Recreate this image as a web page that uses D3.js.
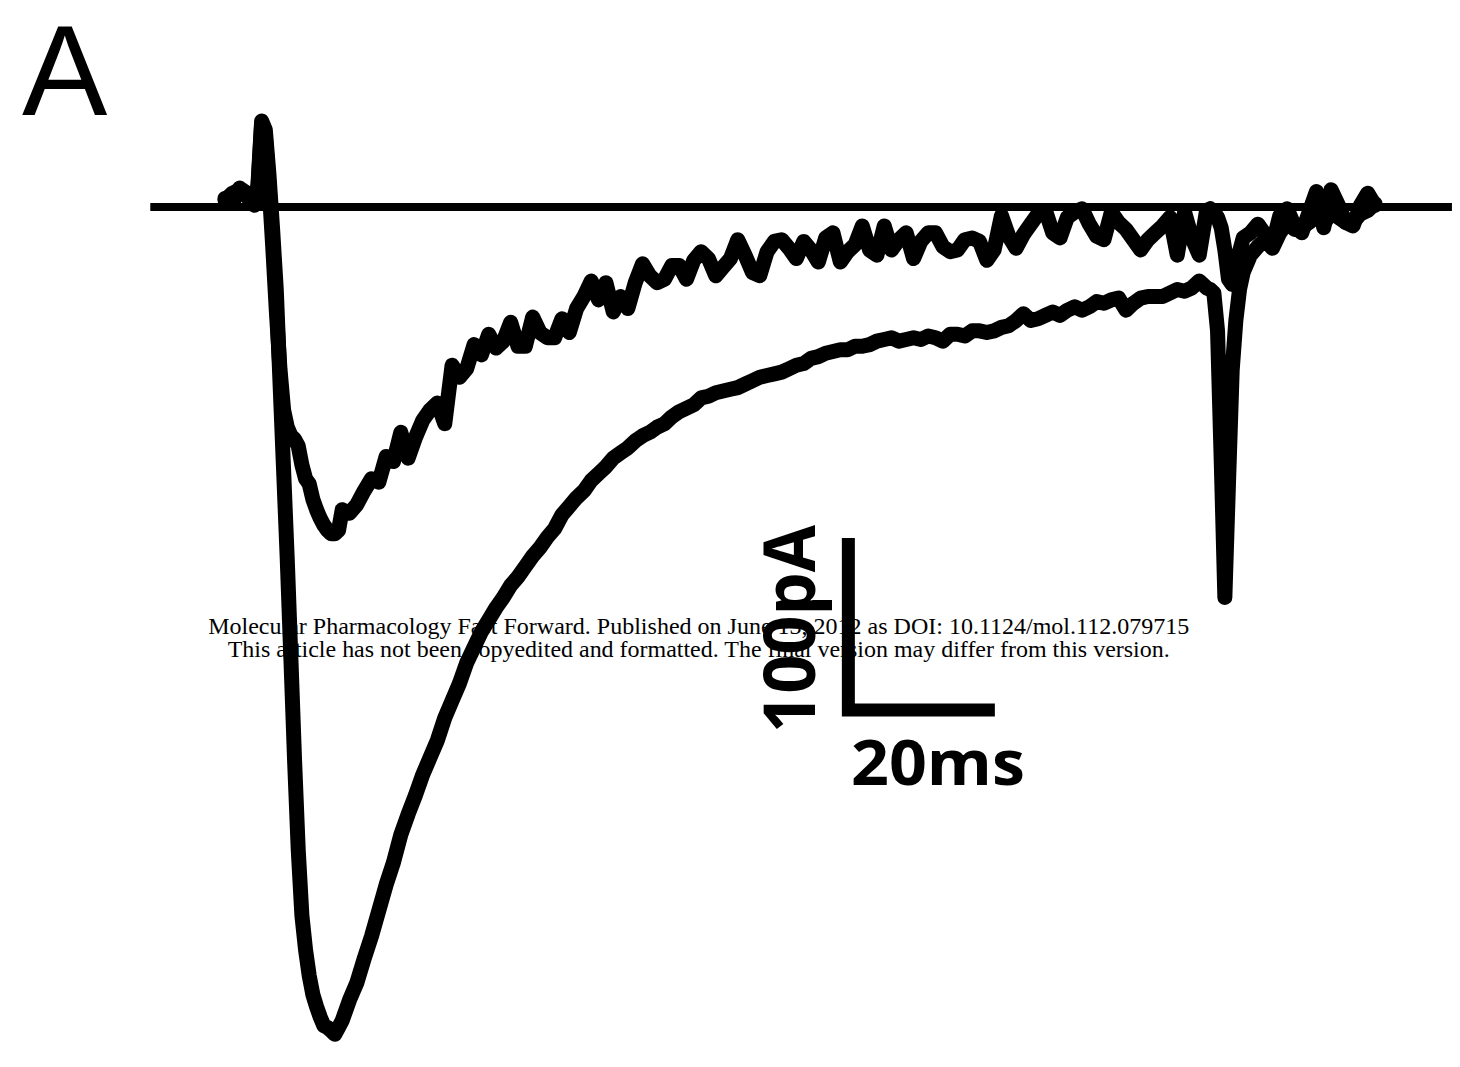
<!DOCTYPE html>
<html>
<head>
<meta charset="utf-8">
<script src="https://cdn.jsdelivr.net/npm/d3@7"></script>
<style>
  html, body { margin: 0; padding: 0; background: #ffffff; }
  svg { display: block; }
</style>
</head>
<body>
<svg id="fig" width="1460" height="1067"></svg>
<script>
// Sample times (ms); finer steps around the stimulus transient and the tail artifact.
const timeMs = [
  0, 1, 2, 3, 4,
  4.5, 5, 5.5, 6, 6.5, 7, 7.5, 8, 8.5, 9, 9.5, 10, 10.5, 11, 11.5, 12, 12.5, 13, 13.5, 14, 14.5, 15, 15.5, 16,
  17, 18, 19, 20, 21, 22, 23, 24, 25, 26, 27, 28, 29, 30, 31, 32, 33, 34, 35, 36, 37, 38, 39, 40,
  41, 42, 43, 44, 45, 46, 47, 48, 49, 50, 51, 52, 53, 54, 55, 56, 57, 58, 59, 60,
  61, 62, 63, 64, 65, 66, 67, 68, 69, 70, 71, 72, 73, 74, 75, 76, 77, 78, 79, 80,
  81, 82, 83, 84, 85, 86, 87, 88, 89, 90, 91, 92, 93, 94, 95, 96, 97, 98, 99, 100,
  101, 102, 103, 104, 105, 106, 107, 108, 109, 110, 111, 112, 113, 114, 115, 116, 117, 118, 119, 120,
  121, 122, 123, 124, 125, 126, 127, 128, 129, 130, 131, 132, 133, 134,
  134.5, 135, 135.5, 136, 136.5, 137, 137.5, 138, 138.5, 139,
  140, 141, 142, 143, 144, 145, 146, 147, 148, 149, 150, 151, 152, 153, 154, 155, 156, 157
];

// Larger inward current (pA)
const currentLarge = [
  4, 8, 10, 6, 2,
  13, 50, 45, 19, -13, -48, -101, -153, -205, -263, -322, -374, -412, -432, -447, -458, -465, -471, -476, -477, -479, -481, -477, -473,
  -461, -451, -437, -424, -409, -394, -381, -365, -353, -342, -330, -320, -310, -297, -287, -277, -265, -256, -247, -240, -233, -227, -220, -215,
  -209, -203, -198, -192, -187, -179, -174, -169, -165, -159, -155, -151, -146, -143, -140, -136, -133, -131, -128, -126,
  -122, -119, -117, -115, -111, -110, -108, -107, -106, -105, -103, -101, -99, -98, -97, -96, -94, -92, -91, -88,
  -87, -85, -84, -83, -83, -81, -81, -80, -78, -77, -76, -78, -77, -76, -77, -75, -76, -78, -74, -74,
  -75, -72, -72, -73, -72, -70, -69, -66, -62, -66, -65, -63, -61, -63, -60, -58, -60, -58, -55, -56,
  -54, -53, -60, -56, -53, -52, -52, -52, -50, -48, -49, -47, -43, -47,
  -48, -50, -72, -147, -227, -160, -95, -66, -48, -38,
  -28, -23, -19, -24, -15, -9, -13, -12, -9, -5, -10, -3, -6, -9, -9, -4, -2, 2
];

// Smaller inward current (pA)
const currentSmall = [
  5, 2, 11, 8, 1,
  11, 48, 42, 13, -22, -60, -94, -118, -128, -133, -135, -139, -150, -158, -161, -170, -176, -181, -185, -188, -190, -190, -188, -176,
  -178, -173, -165, -158, -160, -145, -148, -131, -146, -134, -124, -118, -114, -126, -92, -99, -94, -80, -86, -74, -82, -78, -67, -81,
  -81, -64, -73, -76, -76, -65, -73, -59, -52, -43, -54, -44, -61, -52, -59, -44, -33, -40, -44, -42,
  -34, -34, -42, -31, -26, -30, -40, -35, -30, -19, -28, -38, -40, -26, -20, -19, -24, -30, -20, -25,
  -32, -18, -15, -32, -26, -22, -11, -25, -28, -11, -25, -19, -15, -30, -20, -15, -15, -23, -26, -25,
  -19, -18, -20, -31, -25, -5, -17, -24, -16, -10, -4, -2, -15, -18, -6, -3, -1, -10, -17, -19,
  -3, -9, -13, -19, -25, -19, -15, -11, -6, -28, -3, -18, -28, -2,
  -1, -3, -6, -12, -25, -42, -45, -35, -26, -18,
  -15, -10, -16, -22, -5, -1, -11, -15, -3, 9, -12, 10, 1, -9, -11, 1, 8, 1
];

// Zero-current reference line extent (ms)
const baselineRangeMs = [-10.2, 167.5];

// Scale bar: 20 ms by 100 pA, corner placed at this time/current
const scaleBarMs = 20;
const scaleBarPA = 100;
const scaleBarCorner = [85.1, -292.4];
const scaleBarLabels = ["20ms", "100pA"];

const panelLabel = "A";
const noticeLines = [
  "Molecular Pharmacology Fast Forward. Published on June 13, 2012 as DOI: 10.1124/mol.112.079715",
  "This article has not been copyedited and formatted. The final version may differ from this version."
];
const noticeWidths = [981, 942];

const svg = d3.select("#fig");

// 7.325 px per ms, 1.72 px per pA
const x = d3.scaleLinear().domain([0, 20]).range([225, 371.5]);
const y = d3.scaleLinear().domain([0, -100]).range([207, 379]);

// Journal notice, underneath the recordings
const notice = svg.append("g")
  .attr("font-family", "'Liberation Serif', 'Times New Roman', serif")
  .attr("font-size", 23)
  .attr("fill", "#000")
  .attr("text-anchor", "middle");
notice.selectAll("text").data(noticeLines).join("text")
  .attr("x", 698.7)
  .attr("y", (d, i) => 634 + i * 23)
  .attr("textLength", (d, i) => noticeWidths[i])
  .attr("lengthAdjust", "spacingAndGlyphs")
  .text(d => d);

// Zero-current line
svg.append("line")
  .attr("x1", x(baselineRangeMs[0])).attr("x2", x(baselineRangeMs[1]))
  .attr("y1", y(0)).attr("y2", y(0))
  .attr("stroke", "#000").attr("stroke-width", 8);

// Current traces
const trace = d3.line()
  .x((d, i) => x(timeMs[i]))
  .y(d => y(d));

svg.selectAll("path.trace")
  .data([currentSmall, currentLarge])
  .join("path")
  .attr("class", "trace")
  .attr("d", trace)
  .attr("fill", "none")
  .attr("stroke", "#000")
  .attr("stroke-width", 15)
  .attr("stroke-linejoin", "round")
  .attr("stroke-linecap", "round");

// Scale bar
const [t0, i0] = scaleBarCorner;
const bar = d3.path();
bar.moveTo(x(t0), y(i0 + scaleBarPA));
bar.lineTo(x(t0), y(i0));
bar.lineTo(x(t0 + scaleBarMs), y(i0));
svg.append("path")
  .attr("d", bar.toString())
  .attr("fill", "none")
  .attr("stroke", "#000")
  .attr("stroke-width", 13)
  .attr("stroke-linejoin", "miter")
  .attr("stroke-linecap", "butt");

const labelFont = "'Open Sans', 'Noto Sans', sans-serif";

svg.append("text")
  .attr("x", 851).attr("y", 785)
  .attr("font-family", labelFont)
  .attr("font-weight", 700)
  .attr("font-size", 63)
  .attr("textLength", 174)
  .attr("lengthAdjust", "spacingAndGlyphs")
  .attr("fill", "#000")
  .text(scaleBarLabels[0]);

svg.append("text")
  .attr("transform", "translate(815,733) rotate(-90)")
  .attr("font-family", labelFont)
  .attr("font-weight", 700)
  .attr("font-size", 72)
  .attr("textLength", 208)
  .attr("lengthAdjust", "spacingAndGlyphs")
  .attr("fill", "#000")
  .text(scaleBarLabels[1]);

// Panel letter
svg.append("text")
  .attr("x", 22).attr("y", 115)
  .attr("font-family", "'Liberation Sans', Arial, sans-serif")
  .attr("font-weight", 400)
  .attr("font-size", 128)
  .attr("fill", "#000")
  .text(panelLabel);
</script>
</body>
</html>
